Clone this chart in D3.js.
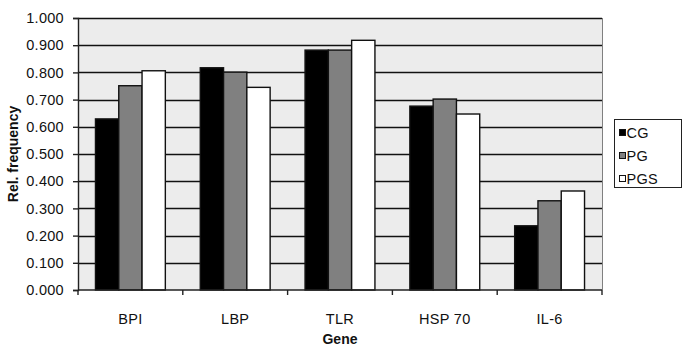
<!DOCTYPE html>
<html lang="en">
<head>
  <meta charset="UTF-8">
  <title>Rel. frequency by gene</title>
  <script src="https://d3js.org/d3.v7.min.js"></script>
  <style>
    body { margin: 0; background: #fff; font-family: Arial, 'Liberation Sans', sans-serif; }
    svg { display: block; }
  </style>
</head>
<body>
  <div id="wrapper"></div>
  <script>
    const genes = ['BPI', 'LBP', 'TLR', 'HSP 70', 'IL-6']
    const groups = ['CG', 'PG', 'PGS']
    const cgValues = [0.629, 0.817, 0.882, 0.676, 0.236]
    const pgValues = [0.751, 0.801, 0.882, 0.702, 0.328]
    const pgsValues = [0.806, 0.745, 0.918, 0.647, 0.364]
    const yTicks = [0, 0.1, 0.2, 0.3, 0.4, 0.5, 0.6, 0.7, 0.8, 0.9, 1.0]
    const groupColors = ['#000000', '#808080', '#ffffff']

    const seriesValues = [cgValues, pgValues, pgsValues]
    const dataset = genes.map((g, i) => ({
      gene: g,
      values: groups.map((s, j) => ({ group: s, value: seriesValues[j][i], color: groupColors[j] }))
    }))

    const dimensions = {
      width: 685,
      height: 351,
      margin: { top: 18, right: 83, bottom: 61, left: 78 }
    }
    dimensions.boundedWidth = dimensions.width - dimensions.margin.left - dimensions.margin.right
    dimensions.boundedHeight = dimensions.height - dimensions.margin.top - dimensions.margin.bottom

    const wrapper = d3.select('#wrapper').append('svg')
      .attr('width', dimensions.width)
      .attr('height', dimensions.height)

    const bounds = wrapper.append('g')
      .attr('transform', `translate(${dimensions.margin.left},${dimensions.margin.top})`)

    const xScale = d3.scaleBand()
      .domain(genes)
      .range([0, dimensions.boundedWidth])

    // gap width 150% like the spreadsheet
    const bw = xScale.bandwidth()
    const innerScale = d3.scaleBand()
      .domain(groups)
      .range([bw * 0.75 / 4.5, bw - bw * 0.75 / 4.5])

    const yScale = d3.scaleLinear()
      .domain([0, 1])
      .range([dimensions.boundedHeight, 0])

    // plot background
    bounds.append('rect')
      .attr('width', dimensions.boundedWidth)
      .attr('height', dimensions.boundedHeight)
      .attr('fill', '#ececec')

    // grid
    bounds.append('g')
      .selectAll('line')
      .data(yTicks.slice(1))
      .join('line')
        .attr('x1', 0)
        .attr('x2', dimensions.boundedWidth)
        .attr('y1', d => Math.round(yScale(d)) + 0.5)
        .attr('y2', d => Math.round(yScale(d)) + 0.5)
        .attr('stroke', '#111')
        .attr('stroke-width', 1.4)

    // right border of plot
    bounds.append('line')
      .attr('x1', dimensions.boundedWidth + 0.5)
      .attr('x2', dimensions.boundedWidth + 0.5)
      .attr('y1', 0)
      .attr('y2', dimensions.boundedHeight)
      .attr('stroke', '#808080')

    // bars
    const geneGroups = bounds.append('g')
      .selectAll('g')
      .data(dataset)
      .join('g')
        .attr('transform', d => `translate(${xScale(d.gene)},0)`)

    geneGroups.selectAll('rect')
      .data(d => d.values)
      .join('rect')
        .attr('x', d => innerScale(d.group))
        .attr('y', d => yScale(d.value))
        .attr('width', innerScale.bandwidth())
        .attr('height', d => dimensions.boundedHeight - yScale(d.value))
        .attr('fill', d => d.color)
        .attr('stroke', '#111')
        .attr('stroke-width', 1.4)

    // y axis
    const yAxis = bounds.append('g')
      .call(d3.axisLeft(yScale).tickValues(yTicks).tickFormat(d3.format('.3f')).tickSize(5).tickPadding(9))
    yAxis.select('.domain').attr('stroke', '#222').attr('stroke-width', 1.4)
    yAxis.selectAll('.tick line').attr('stroke', '#222').attr('stroke-width', 1.4)
    yAxis.selectAll('text')
      .attr('fill', '#111')
      .style('font-size', '14.5px')
      .style('font-family', 'Arial, Liberation Sans, sans-serif')
      .style('letter-spacing', '0.3px')

    // x axis: ticks at category boundaries
    const xAxis = bounds.append('g')
      .attr('transform', `translate(0,${dimensions.boundedHeight})`)
    xAxis.append('line')
      .attr('x1', 0)
      .attr('x2', dimensions.boundedWidth)
      .attr('stroke', '#222')
      .attr('stroke-width', 1.4)
    xAxis.selectAll('.bound')
      .data(genes.map(g => xScale(g)).concat([dimensions.boundedWidth]))
      .join('line')
        .attr('class', 'bound')
        .attr('x1', d => d)
        .attr('x2', d => d)
        .attr('y1', 0)
        .attr('y2', 5)
        .attr('stroke', '#222')
        .attr('stroke-width', 1.4)
    xAxis.selectAll('.label')
      .data(genes)
      .join('text')
        .attr('class', 'label')
        .attr('x', d => xScale(d) + bw / 2)
        .attr('y', 34)
        .attr('text-anchor', 'middle')
        .attr('fill', '#111')
        .style('font-size', '14.5px')
        .style('letter-spacing', '0.3px')
        .text(d => d)

    xAxis.append('text')
      .attr('x', dimensions.boundedWidth / 2)
      .attr('y', 54)
      .attr('text-anchor', 'middle')
      .attr('fill', '#111')
      .style('font-size', '14px')
      .style('font-weight', 'bold')
      .text('Gene')

    wrapper.append('text')
      .attr('transform', `translate(18,${dimensions.margin.top + dimensions.boundedHeight / 2}) rotate(-90)`)
      .attr('text-anchor', 'middle')
      .attr('fill', '#111')
      .style('font-size', '14px')
      .style('font-weight', 'bold')
      .text('Rel. frequency')

    // legend
    const legend = wrapper.append('g')
      .attr('transform', 'translate(614.5,119.5)')
    legend.append('rect')
      .attr('width', 67)
      .attr('height', 68)
      .attr('fill', '#fff')
      .attr('stroke', '#222')
      .attr('stroke-width', 1)
    const items = legend.selectAll('g')
      .data(groups)
      .join('g')
        .attr('transform', (d, i) => `translate(0,${13 + i * 23})`)
    items.append('rect')
      .attr('x', 5)
      .attr('y', -3)
      .attr('width', 6)
      .attr('height', 6)
      .attr('fill', (d, i) => groupColors[i])
      .attr('stroke', '#111')
    items.append('text')
      .attr('x', 12)
      .attr('y', 5.5)
      .attr('fill', '#111')
      .style('font-size', '14.5px')
      .style('letter-spacing', '0.3px')
      .text(d => d)
  </script>
</body>
</html>
